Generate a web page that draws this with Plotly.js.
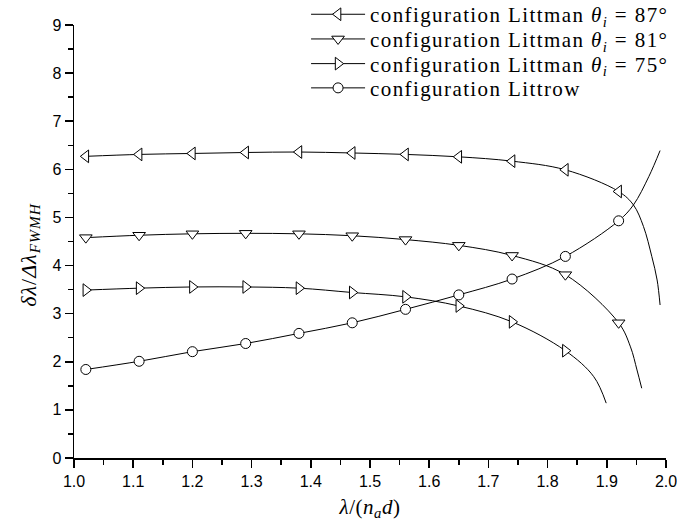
<!DOCTYPE html>
<html>
<head>
<meta charset="utf-8">
<script src="https://cdn.plot.ly/plotly-3.0.1.min.js"></script>
<style>
  body { margin: 0; padding: 0; background: #fff; }
  #chart { width: 677px; height: 530px; }
  .legendtext { letter-spacing: 1.4px !important; }
  .annotation-text { letter-spacing: 1px; }
  .xtitle { letter-spacing: 0.5px; }
</style>
</head>
<body>
<div id="chart"></div>
<script>
// Marker positions (x) shared by all series
var xMarkers = [1.02, 1.11, 1.20, 1.29, 1.38, 1.47, 1.56, 1.65, 1.74, 1.83, 1.92];

// Littman 87°
var y87 = [6.27, 6.31, 6.33, 6.35, 6.36, 6.34, 6.31, 6.26, 6.17, 5.99, 5.54];
var x87Tail = [1.945, 1.962, 1.976, 1.985, 1.990];
var y87Tail = [5.26, 4.81, 4.19, 3.70, 3.18];

// Littman 81°
var y81 = [4.58, 4.63, 4.66, 4.67, 4.66, 4.62, 4.54, 4.42, 4.21, 3.81, 2.81];
var x81Tail = [1.940, 1.951, 1.959];
var y81Tail = [2.31, 1.83, 1.45];

// Littman 75° (10 markers)
var x75Markers = [1.02, 1.11, 1.20, 1.29, 1.38, 1.47, 1.56, 1.65, 1.74, 1.83];
var y75 = [3.49, 3.53, 3.555, 3.555, 3.53, 3.44, 3.35, 3.16, 2.83, 2.23];
var x75Tail = [1.878, 1.899];
var y75Tail = [1.69, 1.14];

// Littrow
var yLittrow = [1.84, 2.01, 2.21, 2.38, 2.59, 2.81, 3.09, 3.39, 3.72, 4.19, 4.93];
var xLittrowTail = [1.945, 1.971, 1.990];
var yLittrowTail = [5.26, 5.85, 6.39];

var names = [
  'configuration Littman <i>θ</i><sub><i>i</i></sub> = 87°',
  'configuration Littman <i>θ</i><sub><i>i</i></sub> = 81°',
  'configuration Littman <i>θ</i><sub><i>i</i></sub> = 75°',
  'configuration Littrow'
];
var yTitle = '<i>δλ</i>/<i>Δλ</i><sub><i>FWMH</i></sub>';
var xTitle = '<i>λ</i>/(<i>n</i><sub><i>a</i></sub><i>d</i>)';
var symbols = ['triangle-left', 'triangle-down', 'triangle-right', 'circle'];
var legendIds = ['legend', 'legend2', 'legend3', 'legend4'];

var series = [
  {xm: xMarkers, ym: y87, xt: x87Tail, yt: y87Tail},
  {xm: xMarkers, ym: y81, xt: x81Tail, yt: y81Tail},
  {xm: x75Markers, ym: y75, xt: x75Tail, yt: y75Tail},
  {xm: xMarkers, ym: yLittrow, xt: xLittrowTail, yt: yLittrowTail}
];

function markerStyle(i) {
  return {symbol: symbols[i], size: i === 3 ? 10 : 11, color: '#fff', line: {color: '#000', width: 1}};
}

var traces = [];
series.forEach(function (s, i) {
  traces.push({
    x: s.xm.concat(s.xt), y: s.ym.concat(s.yt),
    mode: 'lines', type: 'scatter',
    line: {color: '#000', width: 1, shape: 'spline', smoothing: 1},
    showlegend: false, hoverinfo: 'skip'
  });
});
series.forEach(function (s, i) {
  traces.push({
    x: s.xm, y: s.ym, mode: 'markers', type: 'scatter',
    marker: markerStyle(i), showlegend: false
  });
});
series.forEach(function (s, i) {
  traces.push({
    x: [null], y: [null], mode: 'lines+markers', type: 'scatter', name: names[i],
    line: {color: '#000', width: 1}, marker: markerStyle(i),
    legend: legendIds[i], showlegend: true
  });
});

var tickFont = {family: 'Liberation Sans, Arial, sans-serif', size: 16, color: '#000'};
var serif = 'Liberation Serif, Times New Roman, serif';
var legendRowsY = [1.024, 0.967, 0.910, 0.854];

function legendCfg(k) {
  return {
    x: 0.392, y: legendRowsY[k], xanchor: 'left', yanchor: 'middle',
    bgcolor: 'rgba(0,0,0,0)', borderwidth: 0,
    font: {family: serif, size: 21, color: '#000'},
    itemwidth: 54
  };
}

var layout = {
  width: 677, height: 530,
  margin: {l: 74, r: 11, t: 25, b: 72, autoexpand: false},
  paper_bgcolor: '#fff', plot_bgcolor: '#fff',
  showlegend: true,
  legend: legendCfg(0), legend2: legendCfg(1), legend3: legendCfg(2), legend4: legendCfg(3),
  xaxis: {
    range: [1, 2], dtick: 0.1, tick0: 1, tickformat: '.1f', automargin: false,
    ticklabeloverflow: 'allow',
    ticks: 'outside', ticklen: 8, tickwidth: 1.5, tickcolor: '#000',
    showline: true, linewidth: 1.5, linecolor: '#000',
    showgrid: false, zeroline: false, tickfont: tickFont,
    minor: {dtick: 0.05, ticks: 'outside', ticklen: 5, tickwidth: 1.5, tickcolor: '#000', showgrid: false},
    title: {text: xTitle, font: {family: serif, size: 21, color: '#000'}, standoff: 10}
  },
  yaxis: {
    range: [0, 9], dtick: 1, tick0: 0, automargin: false,
    ticklabeloverflow: 'allow',
    ticks: 'outside', ticklen: 8, tickwidth: 1.5, tickcolor: '#000',
    showline: true, linewidth: 1.5, linecolor: '#000',
    showgrid: false, zeroline: false, tickfont: tickFont,
    minor: {dtick: 0.5, ticks: 'outside', ticklen: 5, tickwidth: 1.5, tickcolor: '#000', showgrid: false}
  },
  annotations: [{
    text: yTitle, textangle: -90, showarrow: false,
    xref: 'paper', yref: 'paper', x: -0.074, y: 0.47, xanchor: 'center', yanchor: 'middle',
    font: {family: serif, size: 22, color: '#000'}
  }]
};

function spaceLegendText(gd) {
  gd.querySelectorAll('text').forEach(function (el) {
    if (el.textContent.indexOf('configuration') === 0) {
      el.style.letterSpacing = '1.4px';
    }
  });
  gd.querySelectorAll('[clip-path*="legend"]').forEach(function (el) {
    el.removeAttribute('clip-path');
  });
}

Plotly.newPlot('chart', traces, layout, {displayModeBar: false, staticPlot: true}).then(function (gd) {
  spaceLegendText(gd);
  gd.on('plotly_afterplot', function () { spaceLegendText(gd); });
  setTimeout(function () { spaceLegendText(gd); }, 50);
});
</script>
</body>
</html>
